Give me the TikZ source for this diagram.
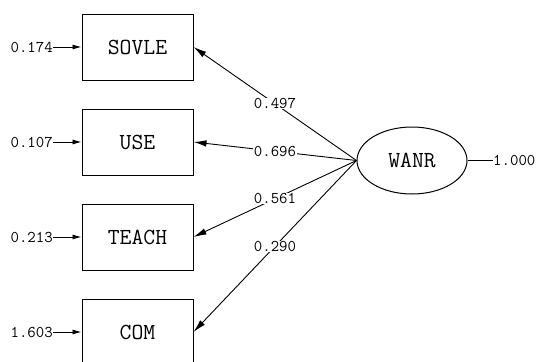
\documentclass[tikz,border=0pt]{standalone}
\usetikzlibrary{arrows.meta,shapes.geometric}
\newcommand\boxtxt[1]{{\ttfamily\fontsize{23}{23}\selectfont #1}}
\newcommand\lbltxt[1]{{\ttfamily\fontsize{16.4}{16}\selectfont #1}}
\tikzset{
  obs/.style={draw,line width=1pt,minimum width=111pt,minimum height=66pt,inner sep=0pt},
  lat/.style={draw,ellipse,line width=1pt,minimum width=110pt,minimum height=67pt,inner sep=0pt},
  lbl/.style={inner sep=0.5pt,fill=white},
  errlbl/.style={inner sep=0pt,anchor=east},
  path/.style={line width=0.9pt,-{Latex[length=13pt,width=6.5pt]}},
  errarr/.style={line width=0.9pt,-{Latex[length=9pt,width=5pt]}},
}
\begin{document}
\begin{tikzpicture}[x=1pt,y=-1pt]
\useasboundingbox (0,0) rectangle (539,362);
\clip (0,0) rectangle (539,362);
\fill[white] (0,0) rectangle (539,362);
% observed
\node[obs] (s) at (137.5,47) {\boxtxt{SOVLE}};
\node[obs] (u) at (137.5,142) {\boxtxt{USE}};
\node[obs] (t) at (137.5,237) {\boxtxt{TEACH}};
\node[obs] (c) at (137.5,332) {\boxtxt{COM}};
% latent
\node[lat] (w) at (412,160.5) {\boxtxt{WANR}};
% error labels
\node[errlbl] (es) at (53,47) {\lbltxt{0.174}};
\node[errlbl] (eu) at (53,142) {\lbltxt{0.107}};
\node[errlbl] (et) at (53,237) {\lbltxt{0.213}};
\node[errlbl] (ec) at (53,332) {\lbltxt{1.603}};
\node[inner sep=0pt,anchor=west] (ew) at (493,160.5) {\lbltxt{1.000}};
% error arrows
\draw[errarr] (es.east) -- (s.west);
\draw[errarr] (eu.east) -- (u.west);
\draw[errarr] (et.east) -- (t.west);
\draw[errarr] (ec.east) -- (c.west);
\draw[line width=0.9pt] (w.east) -- (ew.west);
% paths
\draw[path] (w.west) -- node[lbl] {\lbltxt{0.497}} (s.east);
\draw[path] (w.west) -- node[lbl] {\lbltxt{0.696}} (u.east);
\draw[path] (w.west) -- node[lbl] {\lbltxt{0.561}} (t.east);
\draw[path] (w.west) -- node[lbl] {\lbltxt{0.290}} (c.east);
\end{tikzpicture}
\end{document}
